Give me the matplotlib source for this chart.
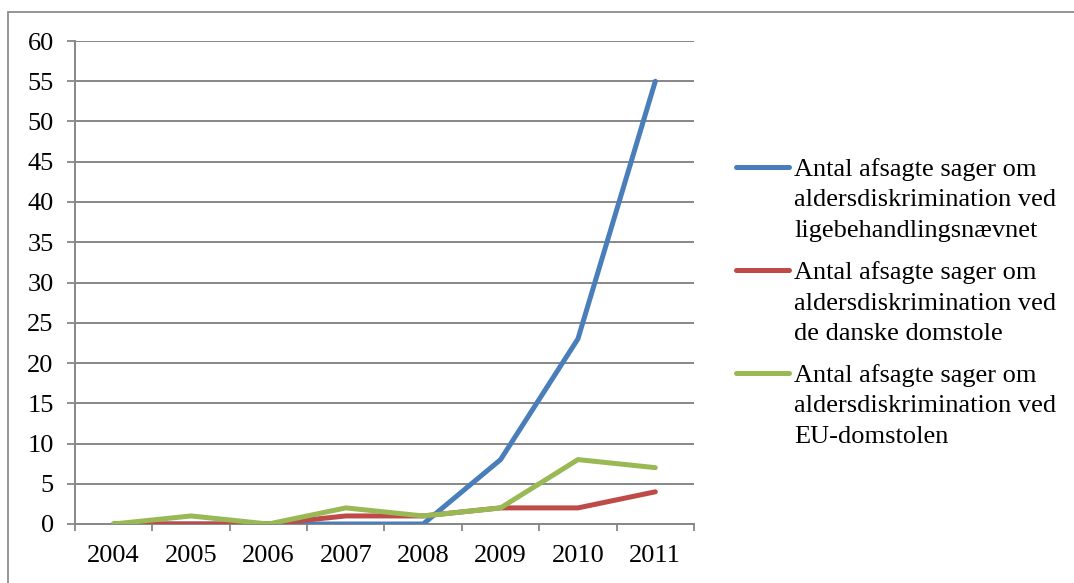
import matplotlib
matplotlib.use("Agg")
import matplotlib.pyplot as plt
from matplotlib.lines import Line2D
from matplotlib.patches import Rectangle

years = ["2004", "2005", "2006", "2007", "2008", "2009", "2010", "2011"]
ligebehandlingsnaevnet = [0, 0, 0, 0, 0, 8, 23, 55]
danske_domstole = [0, 0, 0, 1, 1, 2, 2, 4]
eu_domstolen = [0, 1, 0, 2, 1, 2, 8, 7]
labels = [
    "Antal afsagte sager om\naldersdiskrimination ved\nligebehandlingsnævnet",
    "Antal afsagte sager om\naldersdiskrimination ved\nde danske domstole",
    "Antal afsagte sager om\naldersdiskrimination ved\nEU-domstolen",
]
colors = ["#4A7EBB", "#BE4B48", "#98B954"]
y_ticks = list(range(0, 61, 5))

plt.rcParams["font.family"] = ["Liberation Serif", "DejaVu Serif"]
FS = 19
GRID = "#878787"

W, H = 1074, 583
fig = plt.figure(figsize=(W / 100, H / 100), dpi=100)
ax = fig.add_axes([75 / W, 1 - 524 / H, (694 - 75) / W, (524 - 41) / H])

x = list(range(len(years)))
series = [ligebehandlingsnaevnet, danske_domstole, eu_domstolen]
for vals, c, lab in zip(series, colors, labels):
    ax.plot(x, vals, color=c, lw=3.6, solid_capstyle="round",
            solid_joinstyle="round", label=lab, zorder=3)

ax.set_xlim(-0.5, len(years) - 0.5)
ax.set_ylim(0, 60)
ax.set_yticks(y_ticks)
ax.set_yticklabels([str(v) for v in y_ticks], fontsize=FS)
ax.set_xticks(x)
ax.set_xticklabels(years, fontsize=FS)
ax.tick_params(axis="x", which="major", length=0, pad=15)
# category boundary ticks on the x axis
ax.set_xticks([i - 0.5 for i in range(len(years) + 1)], minor=True)
ax.tick_params(axis="x", which="minor", length=5, width=1.3, color=GRID)
ax.tick_params(axis="y", length=5.8, width=1.3, color=GRID, pad=9.5)
ax.yaxis.grid(True, color=GRID, lw=1.4)
ax.set_axisbelow(True)
for s in ["top", "right"]:
    ax.spines[s].set_visible(False)
for s in ["left", "bottom"]:
    ax.spines[s].set_color(GRID)
    ax.spines[s].set_linewidth(1.4)

# outer chart frame
fig.patches.append(Rectangle((8 / W, -0.1), 1.2, 1 - 12 / H + 0.1,
                             transform=fig.transFigure, fill=False,
                             edgecolor="#8C8C8C", lw=1.3))

# legend entries: handle beside the first text line, lines placed by baseline
baselines = [176, 279, 382]
LINE_STEP = 30.5
for lab, c, base in zip(labels, colors, baselines):
    yl = 1 - (base - 9) / H
    fig.add_artist(Line2D([736 / W, 789 / W], [yl, yl], color=c, lw=3.6,
                          solid_capstyle="round", transform=fig.transFigure))
    for k, line in enumerate(lab.split("\n")):
        fig.text(794 / W, 1 - (base + k * LINE_STEP) / H, line, fontsize=FS,
                 va="baseline", ha="left")

fig.savefig("out.png", dpi=100)
